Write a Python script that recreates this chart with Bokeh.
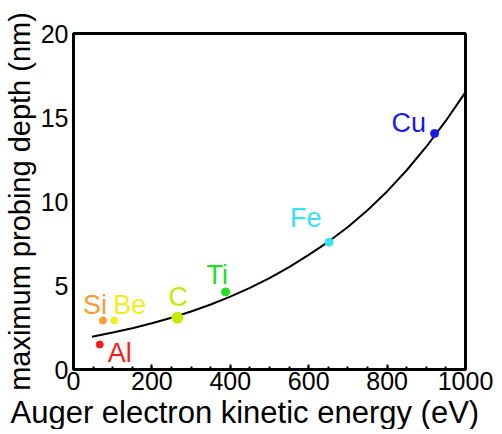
from bokeh.plotting import figure
from bokeh.models import ColumnDataSource, Range1d, FixedTicker, Title
from bokeh.core.properties import value
from bokeh.embed import file_html
from bokeh.resources import INLINE

# element data
elements = ["Al", "Si", "Be", "C", "Ti", "Fe", "Cu"]
energy_eV = [67, 75, 104, 265, 388, 652, 921]
depth_nm = [1.49, 2.92, 2.92, 3.08, 4.62, 7.58, 14.05]
colors = ["#ff1a1a", "#ff9a30", "#f0ee20", "#c8e800", "#22dd22", "#33e4f0", "#1a1aee"]

# fitted curve
curve_x = [47, 100, 150, 200, 250, 300, 350, 400, 450, 500, 550, 600, 650, 700, 750, 800, 850, 900, 950, 1000]
curve_y = [1.95, 2.20, 2.46, 2.75, 3.08, 3.45, 3.87, 4.34, 4.86, 5.44, 6.09, 6.82, 7.60, 8.48, 9.48, 10.60, 11.86, 13.26, 14.81, 16.51]

x_ticks = [0, 200, 400, 600, 800, 1000]
y_ticks = [0, 5, 10, 15, 20]
x_title = "Auger electron kinetic energy (eV)"
y_title = "maximum probing depth (nm)"

# styling (screen offsets of labels relative to their points)
marker_sizes = [7, 7, 7, 11, 8, 8, 8]
label_dx = [8, -20, -1, -9, -19, -39, -43]
label_dy = [9, -15, -15, -21, -17, -24, -10]

FONT = "Liberation Sans"

p = figure(frame_width=392, frame_height=336, output_backend="svg", toolbar_location=None,
           x_range=Range1d(0, 1000), y_range=Range1d(0, 20),
           min_border_left=71, min_border_top=33, min_border_right=30, min_border_bottom=10)
p.grid.visible = False
p.background_fill_color = "white"
p.border_fill_color = "white"
p.outline_line_color = "black"
p.outline_line_width = 3

p.line(curve_x, curve_y, line_color="black", line_width=2)

src = ColumnDataSource(dict(x=energy_eV, y=depth_nm, c=colors, s=marker_sizes,
                            t=elements, dx=label_dx, dy=label_dy))
p.scatter("x", "y", size="s", fill_color="c", line_color="c", source=src)
p.text("x", "y", text="t", x_offset="dx", y_offset="dy", text_color="c",
       text_font=value(FONT), text_font_size="27px", text_align="left",
       text_baseline="alphabetic", source=src)

for ax in (p.xaxis[0], p.yaxis[0]):
    ax.axis_line_width = 3
    ax.axis_line_color = "black"
    ax.major_label_text_font = FONT
    ax.major_label_text_font_size = "25px"
    ax.major_label_text_color = "black"
    ax.axis_label_text_font = FONT
    ax.axis_label_text_font_style = "normal"
    ax.axis_label_text_color = "black"

p.xaxis.ticker = FixedTicker(ticks=x_ticks, minor_ticks=list(range(0, 1001, 50)))
p.xaxis.major_tick_in = 5
p.xaxis.major_tick_out = 0
p.xaxis.minor_tick_in = 3
p.xaxis.minor_tick_out = 0
p.xaxis.major_tick_line_width = 2
p.xaxis.minor_tick_line_width = 2
p.xaxis.major_label_standoff = 2

# x title as a bottom title, shifted left of the frame as in the original
p.add_layout(Title(text=x_title, align="left", offset=-63, standoff=0,
                   text_font=FONT, text_font_size="31px", text_font_style="normal",
                   text_color="black"), "below")

p.yaxis.ticker = FixedTicker(ticks=y_ticks)
p.yaxis.major_tick_in = 0
p.yaxis.major_tick_out = 0
p.yaxis.minor_tick_in = 0
p.yaxis.minor_tick_out = 0
p.yaxis.major_label_standoff = 5
p.yaxis.axis_label = y_title
p.yaxis.axis_label_text_font_size = "29px"
p.yaxis.axis_label_standoff = 2

open("out.html", "w").write(file_html(p, INLINE))
